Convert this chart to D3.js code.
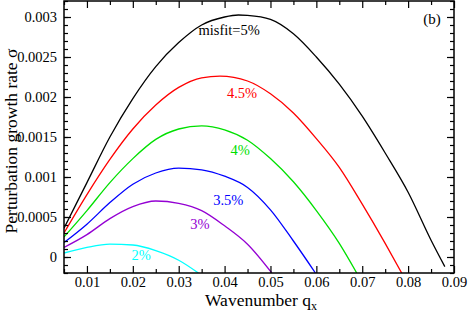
<!DOCTYPE html>
<html>
<head>
<meta charset="utf-8">
<script src="https://cdn.jsdelivr.net/npm/d3@7"></script>
<style>
  body { margin: 0; background: #fff; }
  svg text { font-family: "Liberation Serif", "Times New Roman", Times, "DejaVu Serif", serif; }
</style>
</head>
<body>
<svg id="chart" width="468" height="313"></svg>
<script>
// growth rate curves (q, sigma)
const q5   = [0.005, 0.01, 0.015, 0.02, 0.025, 0.03, 0.035, 0.04, 0.043, 0.045, 0.05, 0.055, 0.06, 0.065, 0.07, 0.075, 0.08, 0.085, 0.088];
const s5   = [0.00036, 0.00093, 0.0015, 0.00198, 0.00238, 0.00268, 0.0029, 0.003, 0.003025, 0.00302, 0.00297, 0.00279, 0.0025, 0.00216, 0.00176, 0.0013, 0.00081, 0.00021, -0.00012];
const q45  = [0.005, 0.01, 0.015, 0.02, 0.025, 0.03, 0.035, 0.039, 0.045, 0.05, 0.055, 0.06, 0.065, 0.07, 0.075, 0.0786];
const s45  = [0.0003, 0.00078, 0.00122, 0.0016, 0.0019, 0.00212, 0.00224, 0.00226, 0.0022, 0.00204, 0.0018, 0.00148, 0.00112, 0.00066, 0.00017, -0.0002];
const q4   = [0.005, 0.01, 0.015, 0.02, 0.025, 0.03, 0.035, 0.04, 0.045, 0.05, 0.055, 0.06, 0.065, 0.0688];
const s4   = [0.00025, 0.00058, 0.00093, 0.00123, 0.00147, 0.0016, 0.00164, 0.00159, 0.00146, 0.00123, 0.00094, 0.00058, 0.00017, -0.0002];
const q35  = [0.005, 0.01, 0.015, 0.02, 0.025, 0.03, 0.035, 0.04, 0.045, 0.05, 0.055, 0.0598];
const s35  = [0.00018, 0.00041, 0.00068, 0.00091, 0.00105, 0.00111, 0.00109, 0.00101, 0.00087, 0.00059, 0.0002, -0.0002];
const q3   = [0.005, 0.01, 0.015, 0.02, 0.025, 0.03, 0.035, 0.04, 0.045, 0.0503];
const s3   = [0.00012, 0.00028, 0.00048, 0.00063, 0.0007, 0.00067, 0.00058, 0.00039, 0.00016, -0.0002];
const q2   = [0.005, 0.01, 0.015, 0.02, 0.025, 0.03, 0.0343];
const s2   = [0.00005, 0.00012, 0.00016, 0.00015, 0.00008, -0.00004, -0.0002];

const curveNames  = ["misfit=5%", "4.5%", "4%", "3.5%", "3%", "2%"];
const curveColors = ["#000000", "#ff0000", "#00e000", "#0000ff", "#9400d3", "#00ffff"];
// label anchor (q, sigma) for each curve name
const labelQ = [0.041, 0.0438, 0.0434, 0.0408, 0.0346, 0.0218];
const labelS = [0.002775, 0.00199, 0.001275, 0.00065, 0.00035, -0.00004];

const xMajor = [0.01, 0.02, 0.03, 0.04, 0.05, 0.06, 0.07, 0.08, 0.09];
const xMinor = [0.005, 0.015, 0.025, 0.035, 0.045, 0.055, 0.065, 0.075, 0.085];
const yMajor = [0, 0.0005, 0.001, 0.0015, 0.002, 0.0025, 0.003];
const yLabels = ["0", "0.0005", "0.001", "0.0015", "0.002", "0.0025", "0.003"];
const yMinor = d3.range(-2, 33).map(i => i * 0.0001);

const series = [[q5, s5], [q45, s45], [q4, s4], [q35, s35], [q3, s3], [q2, s2]];

const W = 468, H = 313;
const margin = { top: 1, right: 14, bottom: 40, left: 64 };
const iw = W - margin.left - margin.right;
const ih = H - margin.top - margin.bottom;
const serif = "'Liberation Serif', 'Times New Roman', Times, 'DejaVu Serif', serif";

const svg = d3.select("#chart");
const g = svg.append("g").attr("transform", `translate(${margin.left},${margin.top})`);

const x = d3.scaleLinear().domain([0.005, 0.09]).range([0, iw]);
const y = d3.scaleLinear().domain([-0.0002, 0.0032]).range([ih, 0]);

g.append("clipPath").attr("id", "clip")
  .append("rect").attr("width", iw).attr("height", ih);

const line = d3.line()
  .x(d => x(d[0]))
  .y(d => y(d[1]))
  .curve(d3.curveMonotoneX);

series.forEach((s, i) => {
  const pts = s[0].map((q, j) => [q, s[1][j]]);
  g.append("path")
    .attr("clip-path", "url(#clip)")
    .attr("d", line(pts))
    .attr("fill", "none")
    .attr("stroke", curveColors[i])
    .attr("stroke-width", 1.3);
});

curveNames.forEach((name, i) => {
  g.append("text")
    .attr("x", x(labelQ[i]))
    .attr("y", y(labelS[i]))
    .attr("text-anchor", "middle")
    .attr("fill", curveColors[i])
    .attr("font-family", serif)
    .style("font-size", "14.5px")
    .text(name);
});

function styleAxis(sel) {
  sel.attr("font-family", serif);
  sel.select(".domain").remove();
  sel.selectAll(".tick line").attr("stroke", "#000").attr("stroke-width", 1.2);
  sel.selectAll("text").style("font-size", "14.5px").attr("fill", "#000");
}

// major ticks, inward
g.append("g").attr("transform", `translate(0,${ih})`)
  .call(d3.axisBottom(x).tickValues(xMajor).tickSize(-7).tickPadding(4)
    .tickFormat(d => String(+d.toFixed(3))))
  .call(styleAxis);
g.append("g")
  .call(d3.axisLeft(y).tickValues(yMajor).tickSize(-7).tickPadding(7)
    .tickFormat((d, i) => yLabels[i]))
  .call(styleAxis);
g.append("g")
  .call(d3.axisTop(x).tickValues(xMajor).tickSize(-7).tickFormat(""))
  .call(styleAxis);
g.append("g").attr("transform", `translate(${iw},0)`)
  .call(d3.axisRight(y).tickValues(yMajor).tickSize(-7).tickFormat(""))
  .call(styleAxis);

// minor ticks
g.append("g").attr("transform", `translate(0,${ih})`)
  .call(d3.axisBottom(x).tickValues(xMinor).tickSize(-4).tickFormat(""))
  .call(styleAxis);
g.append("g")
  .call(d3.axisTop(x).tickValues(xMinor).tickSize(-4).tickFormat(""))
  .call(styleAxis);
g.append("g")
  .call(d3.axisLeft(y).tickValues(yMinor).tickSize(-4).tickFormat(""))
  .call(styleAxis);
g.append("g").attr("transform", `translate(${iw},0)`)
  .call(d3.axisRight(y).tickValues(yMinor).tickSize(-4).tickFormat(""))
  .call(styleAxis);

// frame
g.append("rect")
  .attr("width", iw).attr("height", ih)
  .attr("fill", "none").attr("stroke", "#000").attr("stroke-width", 1.5);

// panel tag
g.append("text")
  .attr("x", iw - 22).attr("y", 23)
  .attr("text-anchor", "middle")
  .attr("font-family", serif)
  .style("font-size", "15px")
  .text("(b)");

// axis titles
const xt = svg.append("text")
  .attr("x", margin.left + iw / 2 + 2)
  .attr("y", H - 7)
  .attr("text-anchor", "middle")
  .attr("font-family", serif)
  .style("font-size", "17.5px");
xt.append("tspan").text("Wavenumber q");
xt.append("tspan").attr("dy", 4).style("font-size", "12px").text("x");

svg.append("text")
  .attr("transform", "translate(17,141) rotate(-90)")
  .attr("text-anchor", "middle")
  .attr("font-family", serif)
  .style("font-size", "17.5px")
  .text("Perturbation growth rate σ");
</script>
</body>
</html>
